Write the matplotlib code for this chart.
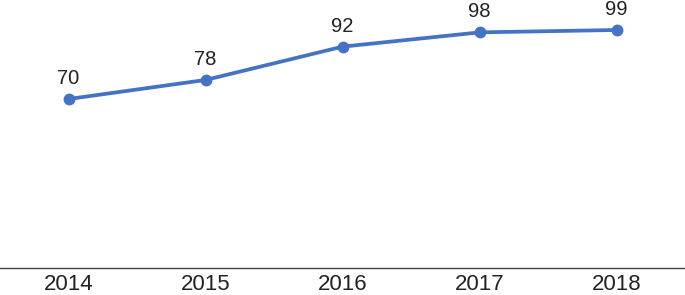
import matplotlib
matplotlib.use('Agg')
import matplotlib.pyplot as plt

# 年份和数值
years = ['2014', '2015', '2016', '2017', '2018']
values = [70, 78, 92, 98, 99]

plt.rcParams['font.family'] = ['Liberation Sans', 'DejaVu Sans']

fig = plt.figure(figsize=(6.85, 2.95), dpi=100)
ax = fig.add_axes([0, 27 / 295, 1, 268 / 295])

x = list(range(len(years)))
ax.plot(x, values, color='#4472C4', linewidth=2.7, marker='o', markersize=7.5,
        solid_capstyle='round')

# 数据标签
for xi, v in zip(x, values):
    ax.annotate(str(v), (xi, v), xytext=(0, 14.8), textcoords='offset points',
                ha='center', va='center', fontsize=14.5, color='#222222')

ax.set_xlim(-0.5, 4.5)
ax.set_ylim(-1.0, 111.6)
ax.set_xticks(x)
ax.set_xticklabels(years, fontsize=16, color='#222222')
ax.tick_params(axis='x', length=0, pad=4.5)
ax.set_yticks([])
for s in ['top', 'right', 'left']:
    ax.spines[s].set_visible(False)
ax.spines['bottom'].set_color('#444444')
ax.spines['bottom'].set_linewidth(1.0)

fig.savefig('out.png', dpi=100)
